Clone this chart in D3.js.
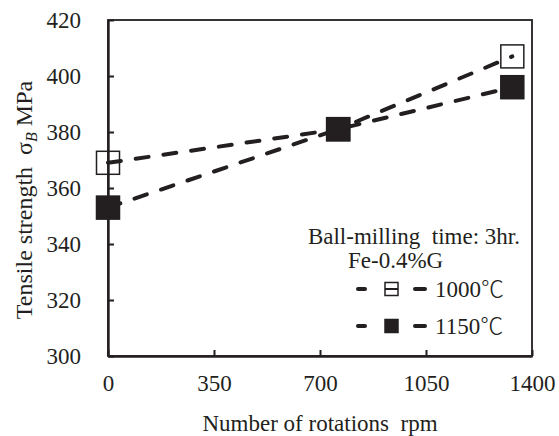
<!DOCTYPE html>
<html>
<head>
<meta charset="utf-8">
<script src="https://cdn.jsdelivr.net/npm/d3@7"></script>
<style>
  body { margin: 0; background: #fff; }
  svg text { font-family: "Liberation Serif", "DejaVu Serif", serif; fill: #231f20; white-space: pre; }
</style>
</head>
<body>
<svg id="chart" width="559" height="436"></svg>
<script>
// Tensile strength vs rotations
const rpm = [0, 760, 1335];
const s1000 = [369, 381, 407];
const s1150 = [353, 381, 396];
const xTicks = [0, 350, 700, 1050, 1400];
const yTicks = [300, 320, 340, 360, 380, 400, 420];
const seriesTemps = ['1000', '1150'];

const svg = d3.select('#chart');
const margin = { top: 20, right: 27, bottom: 80, left: 108 };
const width = 559, height = 436;
const ink = '#231f20';
const serif = '"Liberation Serif", "DejaVu Serif", serif';

const x = d3.scaleLinear().domain([0, 1400]).range([margin.left, width - margin.right]);
const y = d3.scaleLinear().domain([300, 420]).range([height - margin.bottom, margin.top]);

// frame
svg.append('rect')
  .attr('x', x(0)).attr('y', y(420))
  .attr('width', x(1400) - x(0)).attr('height', y(300) - y(420))
  .attr('fill', 'none').attr('stroke', ink).attr('stroke-width', 1.8);

// axes
const xAxis = svg.append('g')
  .attr('transform', `translate(0,${y(300)})`)
  .call(d3.axisBottom(x).tickValues(xTicks).tickFormat(d3.format('d'))
    .tickSizeInner(-6).tickSizeOuter(0).tickPadding(19));
const yAxis = svg.append('g')
  .attr('transform', `translate(${x(0)},0)`)
  .call(d3.axisLeft(y).tickValues(yTicks).tickFormat(d3.format('d'))
    .tickSizeInner(-6).tickSizeOuter(0).tickPadding(27));

[xAxis, yAxis].forEach(g => {
  g.attr('font-family', serif).attr('font-size', 23);
  g.select('.domain').attr('stroke', ink).attr('stroke-width', 2.4);
  g.selectAll('.tick line').attr('stroke', ink).attr('stroke-width', 2);
  g.selectAll('.tick text').attr('fill', ink);
});
xAxis.selectAll('.tick text').attr('dy', '0.71em');

// axis titles
svg.append('text')
  .attr('x', (x(0) + x(1400)) / 2).attr('y', 431)
  .attr('text-anchor', 'middle').attr('font-size', 23)
  .text('Number of rotations  rpm');

const yt = svg.append('text')
  .attr('transform', `translate(32,200) rotate(-90)`)
  .attr('text-anchor', 'middle').attr('font-size', 24);
yt.append('tspan').text('Tensile strength  \u03c3');
yt.append('tspan').attr('font-style', 'italic').attr('font-size', 16).attr('dy', 5).text('B');
yt.append('tspan').attr('dy', -5).text(' MPa');

// series
const series = [
  { temp: seriesTemps[0], vals: s1000, fill: 'none' },
  { temp: seriesTemps[1], vals: s1150, fill: ink }
];
const line = d3.line().x(d => x(d[0])).y(d => y(d[1]));
const ms = 23;

series.forEach(s => {
  const pts = rpm.map((r, i) => [r, s.vals[i]]);
  svg.append('g').selectAll('rect')
    .data(pts).enter().append('rect')
    .attr('x', d => x(d[0]) - ms / 2).attr('y', d => y(d[1]) - ms / 2)
    .attr('width', ms).attr('height', ms)
    .attr('fill', s.fill).attr('stroke', ink).attr('stroke-width', 1.5);
});
series.forEach(s => {
  const pts = rpm.map((r, i) => [r, s.vals[i]]);
  svg.append('path').datum(pts)
    .attr('d', line)
    .attr('fill', 'none').attr('stroke', ink).attr('stroke-width', 4)
    .attr('stroke-linecap', 'round')
    .attr('stroke-dasharray', '13,15');
});
// solid squares redrawn on top so dashes do not show through them
svg.append('g').selectAll('rect')
  .data(rpm.map((r, i) => [r, s1150[i]])).enter().append('rect')
  .attr('x', d => x(d[0]) - ms / 2).attr('y', d => y(d[1]) - ms / 2)
  .attr('width', ms).attr('height', ms).attr('fill', ink);

// legend
svg.append('text').attr('x', 520).attr('y', 244).attr('text-anchor', 'end')
  .attr('font-size', 23).text('Ball-milling  time: 3hr.');
svg.append('text').attr('x', 348).attr('y', 268)
  .attr('font-size', 23).text('Fe-0.4%G');

const legY = [289, 326];
series.forEach((s, i) => {
  const g = svg.append('g');
  g.append('line').attr('x1', 358).attr('x2', 365).attr('y1', legY[i]).attr('y2', legY[i])
    .attr('stroke', ink).attr('stroke-width', 4).attr('stroke-linecap', 'round');
  g.append('line').attr('x1', 415).attr('x2', 425).attr('y1', legY[i]).attr('y2', legY[i])
    .attr('stroke', ink).attr('stroke-width', 4).attr('stroke-linecap', 'round');
  g.append('rect').attr('x', 385).attr('y', legY[i] - 6.5).attr('width', 13).attr('height', 13)
    .attr('fill', s.fill === 'none' ? '#fff' : ink).attr('stroke', ink).attr('stroke-width', 1.5);
  if (s.fill === 'none') {
    g.append('line').attr('x1', 385).attr('x2', 398).attr('y1', legY[i]).attr('y2', legY[i])
      .attr('stroke', ink).attr('stroke-width', 2);
  }
  const t = g.append('text').attr('x', 435).attr('y', legY[i] + 8).attr('font-size', 23);
  t.append('tspan').text(s.temp);
  t.append('tspan').style('font-family', '"Noto Sans CJK JP", sans-serif').attr('font-weight', 300).text('\u2103');
});
</script>
</body>
</html>
